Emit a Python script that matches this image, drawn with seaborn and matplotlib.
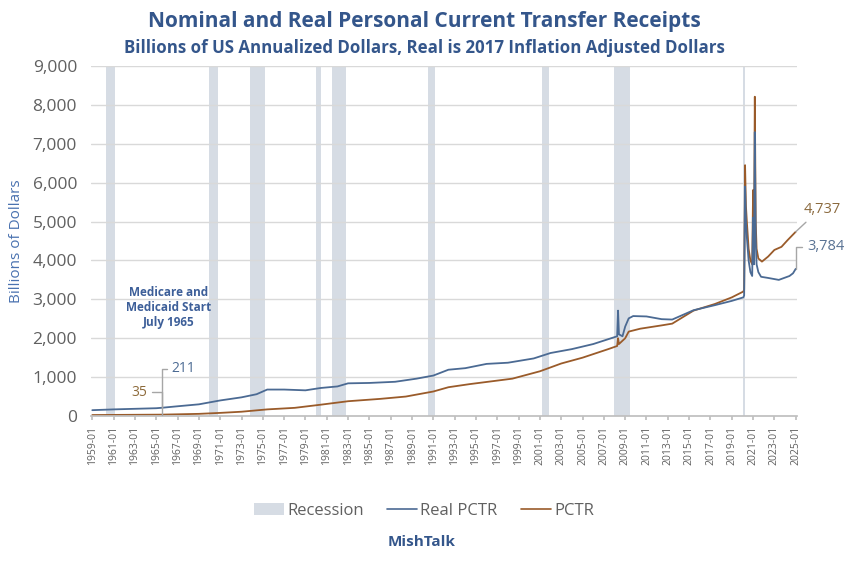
import pandas as pd
import numpy as np
import matplotlib
matplotlib.use("Agg")
import matplotlib.pyplot as plt
from matplotlib.patches import Patch
from matplotlib.lines import Line2D
import seaborn as sns

# ---------------- data ----------------
real_dates = ["1959-01", "1961-01", "1963-01", "1965-01", "1965-07", "1967-01", "1969-01",
              "1971-01", "1973-01", "1974-06", "1975-06", "1977-01", "1979-01", "1980-06",
              "1982-01", "1983-01", "1985-01", "1987-06", "1989-06", "1991-01", "1992-06",
              "1994-01", "1996-01", "1998-01", "2000-06", "2002-01", "2004-01", "2006-01",
              "2007-12", "2008-04", "2008-05", "2008-06", "2008-10", "2009-01", "2009-05",
              "2009-10", "2011-01", "2012-06", "2013-06", "2015-06", "2017-06", "2019-01",
              "2020-02", "2020-03", "2020-04", "2020-05", "2020-06", "2020-08", "2020-10",
              "2020-12", "2021-01", "2021-02", "2021-03", "2021-04", "2021-05", "2021-07",
              "2021-10", "2022-06", "2023-06", "2024-06", "2024-10", "2025-01"]
real_values = [150, 170, 185, 200, 211, 250, 300,
               400, 480, 560, 680, 680, 660, 720,
               760, 840, 850, 880, 960, 1040, 1190,
               1230, 1340, 1370, 1480, 1620, 1720, 1850,
               2020, 2050, 2710, 2100, 2050, 2300, 2510,
               2570, 2560, 2490, 2480, 2720, 2850, 2960,
               3050, 3100, 5900, 5000, 4600, 4000, 3700,
               3600, 5100, 3900, 7300, 4500, 3900, 3700,
               3580, 3550, 3500, 3600, 3670, 3784]

nom_dates = ["1959-01", "1965-07", "1969-01", "1971-01", "1973-01", "1975-06", "1978-01",
             "1980-06", "1983-01", "1986-01", "1988-06", "1991-01", "1992-06", "1994-06",
             "1996-06", "1998-06", "2001-01", "2003-01", "2005-01", "2007-06", "2008-04",
             "2008-05", "2008-06", "2009-01", "2009-05", "2010-06", "2012-06", "2013-06",
             "2015-06", "2017-06", "2019-01", "2020-02", "2020-03", "2020-04", "2020-05",
             "2020-06", "2020-08", "2020-10", "2020-12", "2021-01", "2021-02", "2021-03",
             "2021-04", "2021-05", "2021-07", "2021-11", "2022-06", "2023-01", "2023-09",
             "2024-04", "2025-01"]
nom_values = [25, 35, 55, 80, 110, 170, 210,
              290, 380, 440, 500, 630, 740, 820,
              890, 960, 1150, 1350, 1500, 1720, 1800,
              2000, 1850, 2000, 2170, 2245, 2330, 2375,
              2710, 2880, 3050, 3200, 3250, 6450, 5400,
              5000, 4300, 4000, 3900, 5810, 4300, 8210,
              5000, 4300, 4050, 3970, 4100, 4270, 4350,
              4525, 4737]

rec_start = ["1960-04", "1969-12", "1973-11", "1980-01", "1981-07", "1990-07", "2001-03", "2007-12", "2020-02"]
rec_end = ["1961-02", "1970-11", "1975-03", "1980-07", "1982-11", "1991-03", "2001-11", "2009-06", "2020-04"]

tick_labels = [f"{y}-01" for y in range(1959, 2026, 2)]
y_ticks = [0, 1000, 2000, 3000, 4000, 5000, 6000, 7000, 8000, 9000]

series_names = ["Real PCTR", "PCTR"]

# ---------------- frame ----------------
df = pd.concat([
    pd.DataFrame({"date": pd.to_datetime(real_dates), "value": real_values, "series": series_names[0]}),
    pd.DataFrame({"date": pd.to_datetime(nom_dates), "value": nom_values, "series": series_names[1]}),
])

# ---------------- style ----------------
sns.set_theme(style="white")
plt.rcParams["font.family"] = ["Open Sans", "DejaVu Sans"]

BLUE_LINE = "#4B6A93"
BROWN_LINE = "#9A5B2A"
REC = "#D6DCE4"
GRAY_TXT = "#606060"
TITLE_BLUE = "#34568B"

fig = plt.figure(figsize=(8.48, 5.68), dpi=100)
ax = fig.add_axes([91 / 848, 1 - 416 / 568, 706 / 848, 350 / 568])

for s, e in zip(rec_start, rec_end):
    ax.axvspan(pd.Timestamp(s), pd.Timestamp(e), color=REC, lw=0, zorder=0)

for yv in y_ticks[1:]:
    ax.axhline(yv, color="#D9D9D9", lw=1.0, zorder=0.5)

sns.lineplot(data=df, x="date", y="value", hue="series",
             palette={series_names[0]: BLUE_LINE, series_names[1]: BROWN_LINE},
             hue_order=[series_names[1], series_names[0]],
             linewidth=1.3, legend=False, ax=ax, estimator=None, sort=True)

ax.set_ylim(0, 9000)
ax.set_xlim(pd.Timestamp("1958-11-18"), pd.Timestamp("2025-02-14"))
ax.set_yticks(y_ticks)
ax.set_yticklabels([f"{v:,}" for v in y_ticks], fontsize=12.5, color=GRAY_TXT)
ax.set_xticks(pd.to_datetime(tick_labels))
ax.set_xticklabels(tick_labels, rotation=90, fontsize=7.5, color=GRAY_TXT)
ax.tick_params(axis="x", length=3, color="#BFBFBF", pad=4, bottom=True)
ax.tick_params(axis="y", length=0, pad=10)
for sp in ["top", "right", "left"]:
    ax.spines[sp].set_visible(False)
ax.spines["bottom"].set_color("#BFBFBF")
ax.set_xlabel("")
ax.set_ylabel("Billions of Dollars", fontsize=11, color="#4A72B0", labelpad=2)
ax.yaxis.set_label_coords(-0.095, 0.5)

# titles
fig.text(0.5, 1 - 22 / 568, "Nominal and Real Personal Current Transfer Receipts",
         ha="center", va="center", fontsize=15, fontweight="bold", color=TITLE_BLUE)
fig.text(0.5, 1 - 48 / 568, "Billions of US Annualized Dollars, Real is 2017 Inflation Adjusted Dollars",
         ha="center", va="center", fontsize=12.2, fontweight="bold", color=TITLE_BLUE)

# annotations
ax.text(pd.Timestamp("1966-03-01"), 2800, "Medicare and\nMedicaid Start\nJuly 1965",
        ha="center", va="center", fontsize=8.5, fontweight="bold", color="#3D5F99", linespacing=1.2)

ann_kw = dict(arrowprops=dict(arrowstyle="-", color="#A6A6A6", lw=1,
                              connectionstyle="angle,angleA=0,angleB=90,rad=0",
                              shrinkA=1, shrinkB=0))
i_r = real_dates.index("1965-07")
ax.annotate(f"{real_values[i_r]:,}", xy=(pd.Timestamp(real_dates[i_r]), real_values[i_r]),
            xytext=(7, 28), textcoords="offset points", ha="left", va="center",
            fontsize=10, color="#4B6A93", **ann_kw)
i_n = nom_dates.index("1965-07")
ax.annotate(f"{nom_values[i_n]:,}", xy=(pd.Timestamp(nom_dates[i_n]), nom_values[i_n]),
            xytext=(-10, 16), textcoords="offset points", ha="right", va="center",
            fontsize=10, color="#8D6A3A", **ann_kw)

ax.annotate(f"{nom_values[-1]:,}", xy=(pd.Timestamp(nom_dates[-1]), nom_values[-1]),
            xytext=(6, 16), textcoords="offset points", ha="left", va="center",
            fontsize=10.5, color="#8B6A3E", annotation_clip=False,
            arrowprops=dict(arrowstyle="-", color="#A6A6A6", lw=1, shrinkA=2, shrinkB=0,
                            relpos=(0.2, 0.0)))
ax.annotate(f"{real_values[-1]:,}", xy=(pd.Timestamp(real_dates[-1]), real_values[-1]),
            xytext=(8, 16), textcoords="offset points", ha="left", va="center",
            fontsize=10.5, color="#5A7394", annotation_clip=False,
            arrowprops=dict(arrowstyle="-", color="#A6A6A6", lw=1,
                            connectionstyle="angle,angleA=0,angleB=90,rad=0",
                            shrinkA=1, shrinkB=0, relpos=(0, 0.5)))

# legend
handles = [Patch(facecolor=REC, edgecolor="none"),
           Line2D([0], [0], color=BLUE_LINE, lw=1.2),
           Line2D([0], [0], color=BROWN_LINE, lw=1.2)]
labels = ["Recession"] + series_names
leg = fig.legend(handles, labels, loc="center", bbox_to_anchor=(0.5, 1 - 511 / 568),
                 ncol=3, frameon=False, fontsize=12, handlelength=1.8, handletextpad=0.2,
                 columnspacing=1.4, labelcolor=GRAY_TXT)

fig.text(422 / 848, 1 - 542 / 568, "MishTalk", ha="center", va="center",
         fontsize=11, fontweight="bold", color=TITLE_BLUE)

fig.savefig("out.png", dpi=100)
